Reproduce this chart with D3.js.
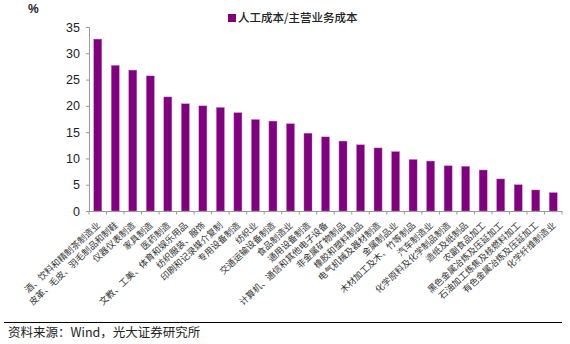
<!DOCTYPE html>
<html><head><meta charset="utf-8">
<script src="https://cdn.jsdelivr.net/npm/d3@7/dist/d3.min.js"></script>
<style>body{margin:0;background:#fff}svg{display:block}</style>
</head><body>
<svg id="c" width="570" height="344"></svg>
<script>
const categories = ["酒、饮料和精制茶制造业","皮革、毛皮、羽毛制品和制鞋","仪器仪表制造","家具制造","医药制造","文教、工美、体育和娱乐用品","纺织服装、服饰","印刷和记录媒介复制","专用设备制造","纺织业","交通运输设备制造","食品制造业","通用设备制造","计算机、通信和其他电子设备","非金属矿物制品","橡胶和塑料制品","电气机械及器材制造","金属制品业","木材加工及木、竹等制品","汽车制造业","化学原料及化学制品制造","造纸及纸制品","农副食品加工","黑色金属冶炼及压延加工","石油加工炼焦及核燃料加工","有色金属冶炼及压延加工","化学纤维制造业"];
const values = [32.7,27.7,26.8,25.7,21.7,20.4,20.0,19.7,18.7,17.4,17.1,16.6,14.8,14.1,13.3,12.6,12.0,11.3,9.8,9.5,8.6,8.5,7.8,6.1,5.0,4.0,3.5];
const yTicks = [0,5,10,15,20,25,30,35];
const seriesName = "人工成本/主营业务成本";
const unitLabel = "%";
const sourceText = "资料来源：Wind，光大证券研究所";

(function(){
const svg = d3.select("#c");
const mLeft = 89, mRight = 562, mTop = 27, mBottom = 211;
const x = d3.scaleBand().domain(categories).range([mLeft, mRight]).paddingInner(0.54).paddingOuter(0.27);
const y = d3.scaleLinear().domain([0, 35]).range([mBottom, mTop]);

// bars
svg.append("g").selectAll("rect").data(values).join("rect")
  .attr("x", (d, i) => x(categories[i]))
  .attr("width", x.bandwidth())
  .attr("y", d => y(d))
  .attr("height", d => y(0) - y(d))
  .attr("fill", "#800080")
  .attr("stroke", "#c080c0").attr("stroke-width", 0.4);

// y axis
const ya = svg.append("g").attr("transform", `translate(${mLeft},0)`)
  .call(d3.axisLeft(y).tickValues(yTicks).tickSize(3).tickPadding(6));
ya.select(".domain").attr("stroke", "#999");
ya.selectAll(".tick line").attr("stroke", "#999");
ya.selectAll("text").attr("font-family", "Liberation Sans, Arial, sans-serif").attr("font-size", 12.5).attr("fill", "#222");

// x axis with ticks at band boundaries
svg.append("line").attr("x1", mLeft).attr("x2", mRight).attr("y1", mBottom + 0.5).attr("y2", mBottom + 0.5).attr("stroke", "#999");
const boundaries = d3.range(categories.length + 1).map(i => mLeft + i * (mRight - mLeft) / categories.length);
svg.append("g").selectAll("line").data(boundaries).join("line")
  .attr("x1", d => d).attr("x2", d => d).attr("y1", mBottom).attr("y2", mBottom + 3.5)
  .attr("stroke", "#999");

// x labels rotated
svg.append("g").selectAll("text").data(categories).join("text")
  .attr("transform", d => `translate(${x(d) + x.bandwidth() / 2 + 3},${mBottom + 15}) rotate(-43)`)
  .attr("text-anchor", "end")
  .attr("font-family", "Noto Sans CJK SC, sans-serif")
  .attr("font-size", 9)
  .attr("fill", "#333")
  .text(d => d);

// unit
svg.append("text").attr("x", 28).attr("y", 13).attr("font-family", "Liberation Sans, Arial, sans-serif")
  .attr("font-size", 12).attr("font-weight", "bold").attr("fill", "#222").text(unitLabel);

// legend
svg.append("rect").attr("x", 228).attr("y", 14).attr("width", 8).attr("height", 8).attr("fill", "#800080");
svg.append("text").attr("x", 238).attr("y", 22).attr("font-family", "Noto Sans CJK SC, sans-serif")
  .attr("font-size", 11.5).attr("font-weight", 500).attr("fill", "#222").text(seriesName);

// source
svg.append("line").attr("x1", 4).attr("x2", 562).attr("y1", 322.5).attr("y2", 322.5).attr("stroke", "#000").attr("stroke-width", 1);
svg.append("text").attr("x", 8).attr("y", 337).attr("font-family", "Noto Sans CJK SC, sans-serif")
  .attr("font-size", 12.5).attr("fill", "#222").text(sourceText);
})();
</script>
</body></html>
